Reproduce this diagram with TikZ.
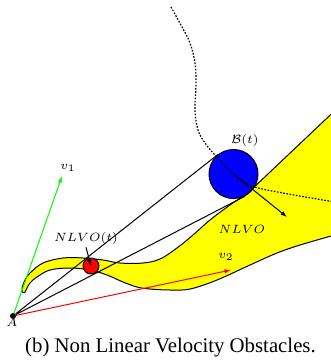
\documentclass[tikz,border=0pt]{standalone}
\usepackage{fontspec}
\setmainfont{Liberation Serif}
\usetikzlibrary{calc,arrows.meta}
\newcommand{\Unit}{0.5pt}
\newcommand{\Edge}{0.5pt}
\newcommand{\BigObs}{24.5pt}
\newcommand{\SmallObs}{8pt}
\definecolor{ink}{HTML}{000000}
\definecolor{band}{HTML}{FFFF00}
\definecolor{obsblue}{HTML}{0000FF}
\definecolor{obsred}{HTML}{FF0000}
\definecolor{velgreen}{HTML}{00FF00}
\definecolor{velred}{HTML}{FF0000}
\tikzset{
  obstacle/.style={circle,draw=ink,line width=\Edge,inner sep=0pt},
  lbl/.style={font=\fontsize{6}{7}\selectfont,inner sep=0pt},
  vel/.style={line width=\Edge,-{Latex[length=3.2pt,width=2.2pt]}},
  traj/.style={line width=0.6pt,line cap=butt,dash pattern=on 0.8pt off 0.8pt},
}

\begin{document}
\begin{tikzpicture}[x=\Unit,y={(0pt,-\Unit)}, line join=round, line cap=round]
  \useasboundingbox (0,0) rectangle (331,361);

  % ---- the NLVO band: runs off the right edge, so clip it there ----------
  \begin{scope}
    \clip (0,0) rectangle (331,361);
    \fill[band,draw=ink,line width=\Edge]
      plot[smooth,tension=0.6] coordinates {(26,290) (30,283) (37,277) (50,270)
        (70,268) (90,270) (107,275) (123,282) (137,287) (150,289) (170,290)
        (190,289) (217,280) (250,265) (277,253) (300,245) (331,236) (345,232)}
      -- (345,101)
      -- plot[smooth,tension=0.6] coordinates {(250,191) (242,197) (230,205)
        (210,220) (193,235) (177,248) (160,259) (143,263) (120,263) (103,260)
        (83,258) (63,258) (43,263) (30,273) (25,280) (22,288)}
      .. controls (21,293) and (25,295) .. (26,290) -- cycle;
  \end{scope}

  % ---- obstacles and the robot --------------------------------------------
  \node[obstacle,fill=obsred,minimum size=\SmallObs] (R) at (91,266) {};
  \node[obstacle,fill=obsblue,minimum size=\BigObs] (B) at (233.5,174) {};
  \node[circle,fill=ink,inner sep=0pt,minimum size=3pt] (A) at (13,316) {};

  % ---- cone from A to B(t) -------------------------------------------------
  \coordinate (tanU) at (tangent cs:node=B,point={(A.center)},solution=1);
  \coordinate (tanL) at (tangent cs:node=B,point={(A.center)},solution=2);
  \draw[ink,line width=\Edge] (A) -- (tanU) (A) -- (tanL);

  % ---- velocities ------------------------------------------------------------
  \coordinate (vOne) at (62,176);
  \coordinate (vTwo) at (231,270);
  \coordinate (vObs) at (287,217);
  \draw[vel,velgreen] (A) -- (vOne);
  \draw[vel,velred] (A) -- (vTwo);
  \draw[vel,ink] (B.center) -- (vObs);

  % trajectory of B, through its centre
  \draw[traj] plot[smooth,tension=0.6] coordinates {(171,7) (182,27) (190,43)
    (195,63) (196,83) (195,110) (198,130) (205,143) (215,155) (233.5,174)
    (252,186) (283,193) (335,202)};

  % ---- labels ----------------------------------------------------------------
  \node[lbl] (lblA) at (12,322) {$A$};
  \node[lbl] (lblOne) at (68,168) {$v_1$};
  \node[lbl] (lblTwo) at (226,257) {$v_2$};
  \node[lbl] (lblB) at (245,140) {$\mathcal{B}(t)$};
  \node[lbl] (lblBand) at (242,229) {$NLVO$};
  \node[lbl] (lblNow) at (86,238) {$NLVO(t)$};
  \draw[vel,ink] ([yshift=-1.5pt]lblNow.south) -- (R.center);

  \node[font=\fontsize{10.4}{12.5}\selectfont,anchor=base,inner sep=0pt] (caption)
    at (170.5,352) {(b) Non Linear Velocity Obstacles.};

\end{tikzpicture}
\end{document}
